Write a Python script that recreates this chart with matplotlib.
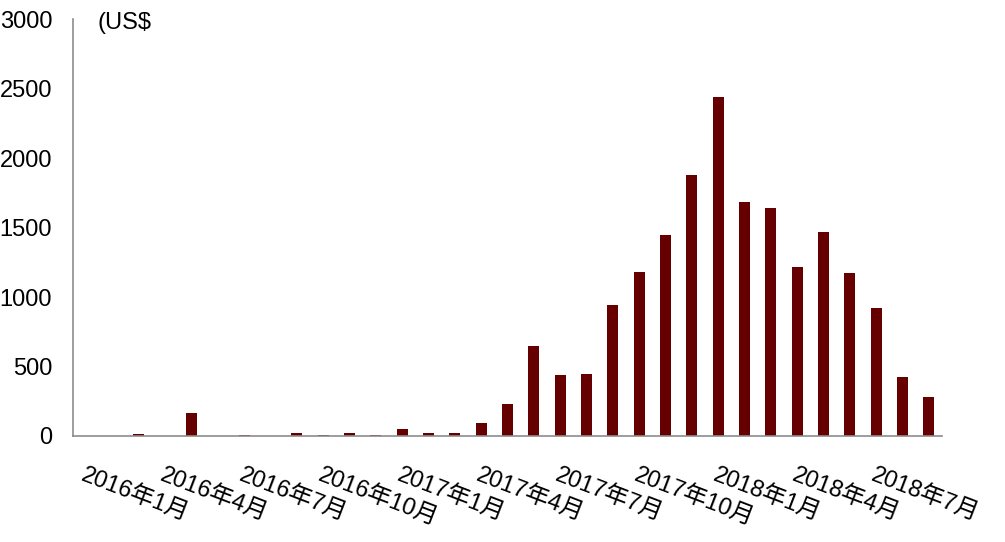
import matplotlib.pyplot as plt

plt.rcParams['font.family'] = ['Liberation Sans', 'Noto Sans CJK SC', 'DejaVu Sans']

# monthly values, Jan 2016 - Sep 2018 (US$)
months = [f"{y}年{m}月" for y in (2016, 2017, 2018) for m in range(1, 13)][:33]
values = [0, 0, 15, 0, 166, 0, 5, 0, 22, 8, 20, 5,
          50, 22, 20, 94, 230, 647, 441, 443, 942, 1180, 1444, 1878,
          2437, 1681, 1638, 1213, 1465, 1173, 918, 427, 281]
tick_idx = list(range(0, 33, 3))
tick_labels = [months[i] for i in tick_idx]

fig = plt.figure(figsize=(10.05, 5.42), dpi=100)
ax = fig.add_axes([73 / 1005, 1 - 436 / 542, 869 / 1005, 417 / 542])

x = list(range(len(values)))
ax.bar(x, values, width=0.42, color='#660000')

ax.set_xlim(-0.5, len(values) - 0.5)
ax.set_ylim(0, 3000)
ax.set_yticks(range(0, 3001, 500))
ax.tick_params(axis='y', length=0, pad=15, labelsize=17)
ax.set_xticks(tick_idx)
ax.set_xticklabels(tick_labels, rotation=-21, ha='left', va='top',
                   rotation_mode='anchor', fontsize=17)
ax.tick_params(axis='x', length=0, pad=21)

for s in ('top', 'right'):
    ax.spines[s].set_visible(False)
for s in ('left', 'bottom'):
    ax.spines[s].set_color('#8c8c8c')
    ax.spines[s].set_linewidth(1.2)

fig.text(97 / 1005, 1 - 23 / 542, '(US$', fontsize=17, va='center', ha='left')

fig.savefig('out.png', dpi=100)
